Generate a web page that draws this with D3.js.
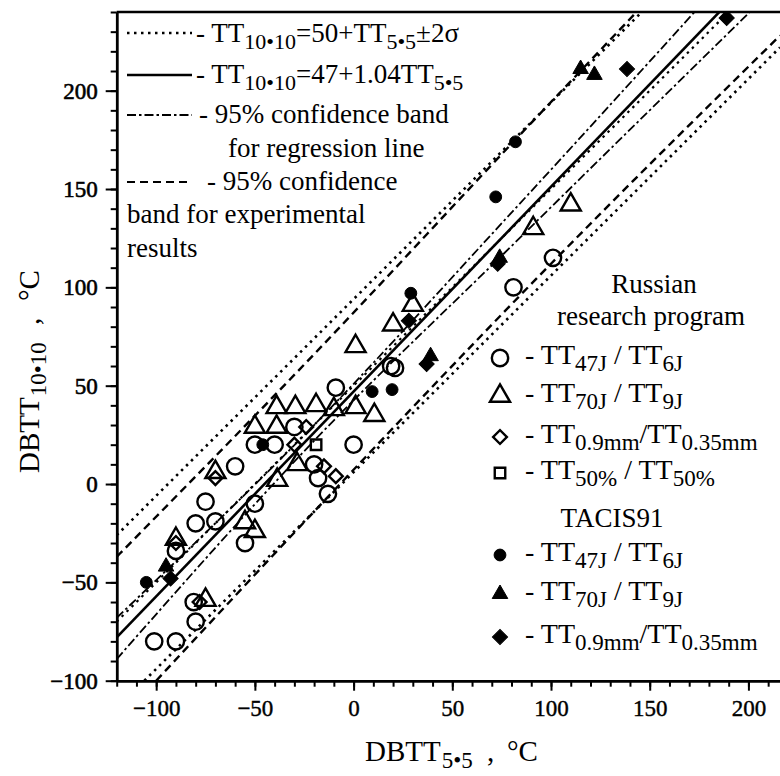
<!DOCTYPE html>
<html><head><meta charset="utf-8">
<script src="https://cdn.jsdelivr.net/npm/d3@7"></script>
<style>body{margin:0;background:#fff}</style>
</head><body>
<svg id="c" width="780" height="776"></svg>
<script>
// ---------- data ----------
const xDomain = [-120, 216];
const yDomain = [-100, 240];
const xTickLabels = [-100, -50, 0, 50, 100, 150, 200];
const yTickLabels = [-100, -50, 0, 50, 100, 150, 200];

// Russian research program
const ruTT47 = [[21,59],[-9,49],[-30,29],[-50,20],[-40,20],[0,20],[-60,9],[-20,10],[-18,3],[-50,-10],[-75,-9],[-80,-20],[-70,-19],[-13,-5],[-55,-30],[-90,-34],[-81,-60],[-80,-70],[-101,-80],[-90,-80],[81,100],[101,115],[19,60]];
const ruTT70 = [[1,70],[-39,39],[-29.5,39],[-19,40],[1,39],[10.5,35],[-50,29],[-39,29],[-28.6,10],[-38.7,2],[-70,6],[-55,-19.5],[-50,-24],[-90,-28],[-75,-59],[91,130],[110,142],[30,91],[20,81],[-10,38]];
const ruTT09 = [[-24,29],[-30,20],[-15,9],[-9,4],[-70,3],[-90,-30],[-78,-60]];
const ruTT50 = [[-19,20]];
// TACIS91
const taTT47 = [[19.5,48],[9.4,47],[-105,-50],[-46,20],[82,174],[72,146],[29,97]];
const taTT70 = [[-95,-42],[115,211],[122,208],[39,65],[74,115]];
const taTT09 = [[189,237],[138.5,211],[73,112],[37,61],[-92.7,-48],[28,83]];

// fitted lines
const lineRegression = [[-120,-78],[216,272]];
const lineMeanDotted = [[-120,-70],[216,266]];
const lineUpperDotted = [[-120,-26],[150,244]];
const lineLowerDotted = [[-106,-100],[216,222]];
const lineUpperConfReg = [[-120,-68],[-20,30],[80,138],[216,288]];
const lineLowerConfReg = [[-120,-89],[-20,22],[80,121],[216,255]];
const lineUpperPred = [[-120,-37],[-20,66],[80,173],[150,247]];
const lineLowerPred = [[-100,-100],[-20,-14],[100,112],[216,228]];

// ---------- drawing ----------
const FONT = "'Liberation Serif','Times New Roman',serif";
const svg = d3.select("#c");
const L = 116.7, R = 780, T = 12, B = 680.7;
const x = d3.scaleLinear().domain(xDomain).range([L, R]);
const y = d3.scaleLinear().domain(yDomain).range([B, T]);

svg.append("defs").append("clipPath").attr("id","clip")
  .append("rect").attr("x",L).attr("y",T).attr("width",R-L).attr("height",B-T);

// axes
const xMinor = d3.range(-120, 217, 10);
const yMinor = d3.range(-100, 241, 10);
function styleAxis(g){ g.select(".domain").attr("stroke-width",2.5); g.selectAll(".tick line").attr("stroke-width",2); }

svg.append("g").attr("transform",`translate(0,${B})`)
  .call(d3.axisBottom(x).tickValues(xMinor).tickSize(6).tickFormat("").tickSizeOuter(0))
  .call(styleAxis);
const gx = svg.append("g").attr("transform",`translate(0,${B})`)
  .call(d3.axisBottom(x).tickValues(xTickLabels).tickSize(10).tickPadding(9).tickSizeOuter(0))
  .call(styleAxis);
gx.selectAll("text").attr("font-family",FONT).attr("font-size",23).attr("fill","#000").attr("stroke","#000").attr("stroke-width",0.4);

svg.append("g").attr("transform",`translate(${L},0)`)
  .call(d3.axisLeft(y).tickValues(yMinor).tickSize(6).tickFormat("").tickSizeOuter(0))
  .call(styleAxis);
const gy = svg.append("g").attr("transform",`translate(${L},0)`)
  .call(d3.axisLeft(y).tickValues(yTickLabels).tickSize(11).tickPadding(8).tickSizeOuter(0))
  .call(styleAxis);
gy.selectAll("text").attr("font-family",FONT).attr("font-size",23).attr("fill","#000").attr("stroke","#000").attr("stroke-width",0.6);

// top frame line
svg.append("line").attr("x1",L).attr("x2",R).attr("y1",T).attr("y2",T).attr("stroke","#000").attr("stroke-width",2.5);

// lines
const plot = svg.append("g").attr("clip-path","url(#clip)");
const lineGen = d3.line().x(d=>x(d[0])).y(d=>y(d[1])).curve(d3.curveMonotoneX);
const DOT = "2.5,4.5", DASHDOT = "9,3,2.5,3", DASH = "8,5";
const lines = [
  [lineUpperDotted, DOT, 2.6],
  [lineLowerDotted, DOT, 2.6],
  [lineMeanDotted, DOT, 2.2],
  [lineUpperPred, DASH, 2.4],
  [lineLowerPred, DASH, 2.4],
  [lineUpperConfReg, DASHDOT, 1.8],
  [lineLowerConfReg, DASHDOT, 1.8],
  [lineRegression, null, 2.6]
];
lines.forEach(([d, dash, w]) => {
  plot.append("path").attr("d", lineGen(d)).attr("fill","none").attr("stroke","#000")
    .attr("stroke-width", w).attr("stroke-dasharray", dash);
});

// markers
const shapes = {
  oCircle: {type:d3.symbolCircle, size:210, fill:"none", rot:0},
  oTri:    {type:d3.symbolTriangle, size:175, fill:"none", rot:0},
  oDiam:   {type:d3.symbolSquare, size:95, fill:"none", rot:45},
  oSq:     {type:d3.symbolSquare, size:110, fill:"none", rot:0},
  fCircle: {type:d3.symbolCircle, size:110, fill:"#000", rot:0},
  fTri:    {type:d3.symbolTriangle, size:105, fill:"#000", rot:0},
  fDiam:   {type:d3.symbolSquare, size:115, fill:"#000", rot:45}
};
function drawMarker(g, key, px, py){
  const s = shapes[key];
  g.append("path").attr("d", d3.symbol().type(s.type).size(s.size)())
    .attr("transform", `translate(${px},${py}) rotate(${s.rot})`)
    .attr("fill", s.fill).attr("stroke","#000").attr("stroke-width", s.fill==="none"?2.4:1);
}
const series = [[ruTT47,"oCircle"],[ruTT70,"oTri"],[ruTT09,"oDiam"],[ruTT50,"oSq"],[taTT47,"fCircle"],[taTT70,"fTri"],[taTT09,"fDiam"]];
series.forEach(([data,key]) => data.forEach(d => drawMarker(plot, key, x(d[0]), y(d[1]))));

// rich text helper
function rich(g, px, py, parts, size, subSize, shift, anchor){
  const t = g.append("text").attr("x",px).attr("y",py).attr("font-family",FONT)
    .attr("font-size",size).attr("fill","#000").attr("text-anchor",anchor||"start");
  let down = false;
  parts.forEach(p => {
    const sp = t.append("tspan").text(p.t);
    if (p.sub && !down){ sp.attr("dy",shift); down = true; }
    else if (!p.sub && down){ sp.attr("dy",-shift); down = false; }
    if (p.sub) sp.attr("font-size",subSize);
    if (p.dx) sp.attr("dx",p.dx);
  });
  return t;
}

// axis titles
rich(svg, 365, 761, [{t:"DBTT"},{t:"5•5",sub:true,dx:1}], 29, 23, 7);
rich(svg, 487, 761, [{t:","}], 29, 23, 7);
rich(svg, 507, 761, [{t:"°C"}], 29, 23, 7);
const yt = svg.append("g").attr("transform","translate(39,473) rotate(-90)");
rich(yt, 0, 0, [{t:"DBTT"},{t:"10•10",sub:true,dx:1}], 29, 23, 7);
rich(yt, 148, 0, [{t:","}], 29, 23, 7);
rich(yt, 172, 0, [{t:"°C"}], 29, 23, 7);

// top-left legend
const lg = svg.append("g");
const sample = (yy, dash, w) => lg.append("line").attr("x1",127).attr("x2",192).attr("y1",yy).attr("y2",yy)
  .attr("stroke","#000").attr("stroke-width",w).attr("stroke-dasharray",dash);
sample(33, DOT, 2.6);
rich(lg, 196, 42, [{t:"- TT"},{t:"10•10",sub:true},{t:"=50+TT"},{t:"5•5",sub:true},{t:"±2σ"}], 27, 22, 7);
sample(75, null, 2.6);
rich(lg, 196, 83, [{t:"- TT"},{t:"10•10",sub:true},{t:"=47+1.04TT"},{t:"5•5",sub:true}], 27, 22, 7);
sample(115, DASHDOT, 1.8);
rich(lg, 199, 123, [{t:"- 95% confidence band"}], 27, 21, 7);
rich(lg, 228, 157, [{t:"for regression line"}], 27, 21, 7);
sample(182, DASH, 2.2);
rich(lg, 207, 190, [{t:"- 95% confidence"}], 27, 21, 7);
rich(lg, 127, 223, [{t:"band for experimental"}], 27, 21, 7);
rich(lg, 127, 257, [{t:"results"}], 27, 21, 7);

// right legend
const rg = svg.append("g");
rich(rg, 654, 293, [{t:"Russian"}], 27, 21, 7, "middle");
rich(rg, 651, 325, [{t:"research program"}], 27, 21, 7, "middle");
rich(rg, 612, 527, [{t:"TACIS91"}], 27, 21, 7, "middle");
const legItems = [
  ["oCircle", 358, [{t:"- TT"},{t:"47J",sub:true},{t:" / TT"},{t:"6J",sub:true}]],
  ["oTri", 396, [{t:"- TT"},{t:"70J",sub:true},{t:" / TT"},{t:"9J",sub:true}]],
  ["oDiam", 437, [{t:"- TT"},{t:"0.9mm",sub:true},{t:"/TT"},{t:"0.35mm",sub:true}]],
  ["oSq", 473, [{t:"- TT"},{t:"50%",sub:true},{t:" / TT"},{t:"50%",sub:true}]],
  ["fCircle", 555, [{t:"- TT"},{t:"47J",sub:true},{t:" / TT"},{t:"6J",sub:true}]],
  ["fTri", 594, [{t:"- TT"},{t:"70J",sub:true},{t:" / TT"},{t:"9J",sub:true}]],
  ["fDiam", 637, [{t:"- TT"},{t:"0.9mm",sub:true},{t:"/TT"},{t:"0.35mm",sub:true}]]
];
legItems.forEach(([key, yy, parts]) => {
  drawMarker(rg, key, 500, yy);
  rich(rg, 525, yy + 6, parts, 28, 23, 7);
});
</script>
</body></html>
